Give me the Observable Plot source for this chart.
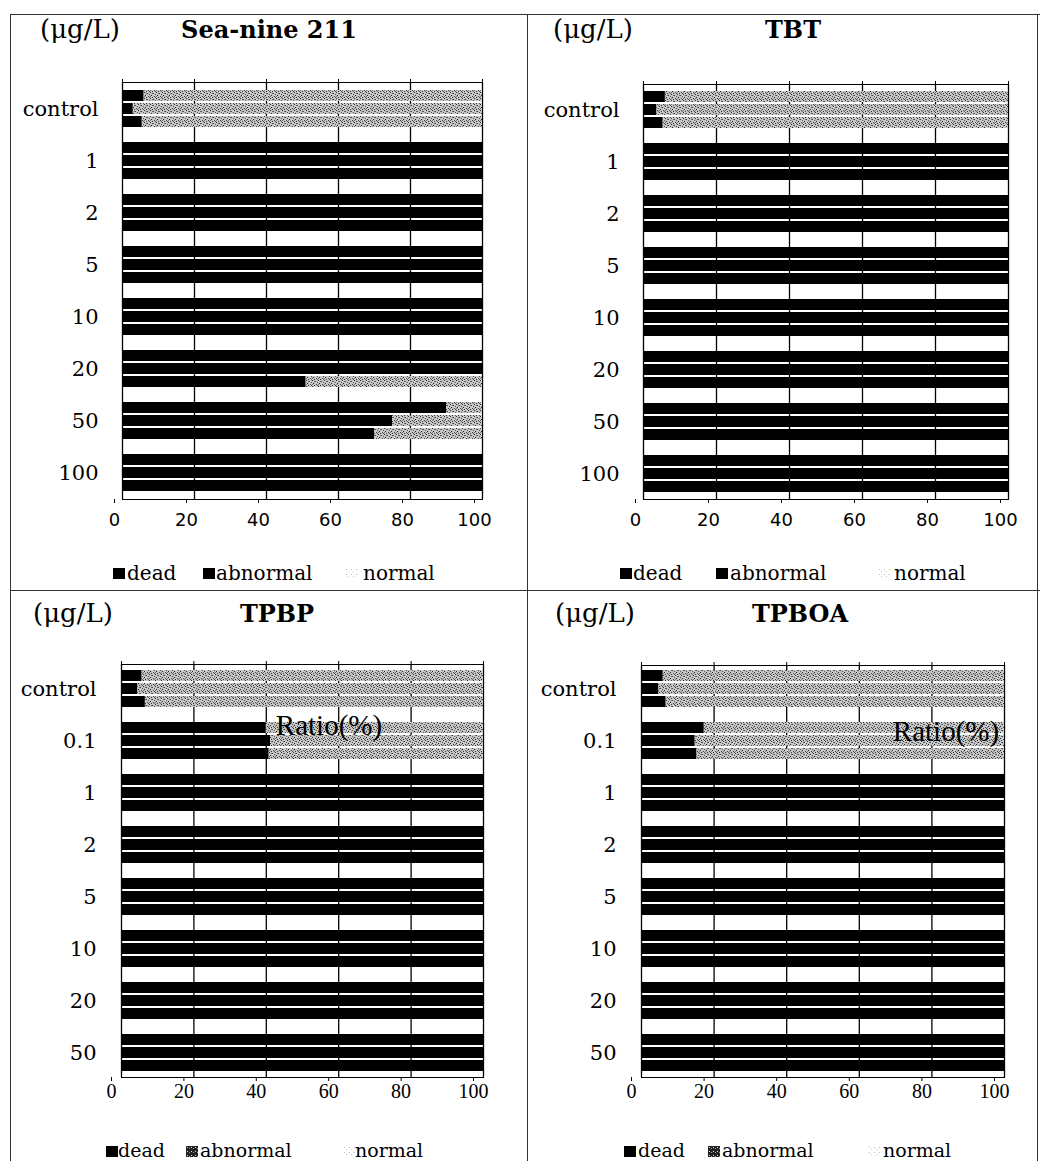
<!DOCTYPE html>
<html>
<head>
<meta charset="utf-8">
<script src="https://cdn.jsdelivr.net/npm/d3@7"></script>
<script src="https://cdn.jsdelivr.net/npm/@observablehq/plot@0.6"></script>
<style>
  body { margin: 0; background: #fff; }
  #page { position: relative; width: 1040px; height: 1161px; overflow: hidden; background: #fff; font-family: "DejaVu Serif", serif; color: #000; }
  .abs { position: absolute; white-space: nowrap; line-height: 1; }
  .bline { position: absolute; background: #333; }
  .plotbox { position: absolute; }
  .plotbox svg { overflow: visible; }
  svg.xsans g[aria-label*="x-axis"] text { font-family: "DejaVu Sans", sans-serif !important; font-size: 18px !important; }
  svg.xserif g[aria-label*="x-axis"] text { font-family: "Liberation Serif", serif !important; font-size: 20px !important; }
  svg.xsans g[aria-label*="y-axis"] text, svg.xserif g[aria-label*="y-axis"] text { font-family: "DejaVu Serif", serif !important; font-size: 21px !important; }
</style>
</head>
<body>
<svg width="0" height="0" style="position:absolute">
  <defs>
    <pattern id="pNormal" width="6" height="6" patternUnits="userSpaceOnUse">
      <rect width="6" height="6" fill="#c6c6c6"/>
      <rect x="0" y="0" width="1" height="1" fill="#333"/>
      <rect x="3" y="1" width="1" height="1" fill="#444"/>
      <rect x="1" y="3" width="1" height="1" fill="#222"/>
      <rect x="4" y="4" width="1" height="1" fill="#444"/>
      <rect x="5" y="2" width="1" height="1" fill="#555"/>
      <rect x="2" y="5" width="1" height="1" fill="#333"/>
      <rect x="2" y="1" width="1" height="1" fill="#666"/>
      <rect x="5" y="5" width="1" height="1" fill="#555"/>
      <rect x="0" y="4" width="1" height="1" fill="#777"/>
    </pattern>
    <pattern id="pNormalLight" width="5" height="5" patternUnits="userSpaceOnUse">
      <rect width="5" height="5" fill="#fff"/>
      <rect x="1" y="1" width="1" height="1" fill="#bbb"/>
      <rect x="3" y="3" width="1" height="1" fill="#ccc"/>
    </pattern>
    <pattern id="pAbnormal" width="4" height="4" patternUnits="userSpaceOnUse">
      <rect width="4" height="4" fill="#222"/>
      <rect x="1" y="1" width="1" height="1" fill="#ddd"/>
      <rect x="3" y="2" width="1" height="1" fill="#999"/>
    </pattern>
  </defs>
</svg>
<div id="page"></div>
<script>
// ---------------- DATA ----------------
const categories = ["dead", "abnormal", "normal"];
const xTickValues = [0, 20, 40, 60, 80, 100];

// Sea-nine 211
const seaNineConc = ["control", "1", "2", "5", "10", "20", "50", "100"];
const seaNineDead = [[6, 3, 5.5], [100, 100, 100], [100, 100, 100], [100, 100, 100], [100, 100, 100], [100, 100, 51], [90, 75, 70], [100, 100, 100]];
const seaNineAbnormal = [[0, 0, 0], [0, 0, 0], [0, 0, 0], [0, 0, 0], [0, 0, 0], [0, 0, 0], [0, 0, 0], [0, 0, 0]];
const seaNineNormal = [[94, 97, 94.5], [0, 0, 0], [0, 0, 0], [0, 0, 0], [0, 0, 0], [0, 0, 49], [10, 25, 30], [0, 0, 0]];

// TBT
const tbtConc = ["control", "1", "2", "5", "10", "20", "50", "100"];
const tbtDead = [[6, 3.7, 5.4], [100, 100, 100], [100, 100, 100], [100, 100, 100], [100, 100, 100], [100, 100, 100], [100, 100, 100], [100, 100, 100]];
const tbtAbnormal = [[0, 0, 0], [0, 0, 0], [0, 0, 0], [0, 0, 0], [0, 0, 0], [0, 0, 0], [0, 0, 0], [0, 0, 0]];
const tbtNormal = [[94, 96.3, 94.6], [0, 0, 0], [0, 0, 0], [0, 0, 0], [0, 0, 0], [0, 0, 0], [0, 0, 0], [0, 0, 0]];

// TPBP
const tpbpConc = ["control", "0.1", "1", "2", "5", "10", "20", "50"];
const tpbpDead = [[5.7, 4.5, 6.6], [40, 41.2, 40.8], [100, 100, 100], [100, 100, 100], [100, 100, 100], [100, 100, 100], [100, 100, 100], [100, 100, 100]];
const tpbpAbnormal = [[0, 0, 0], [0, 0, 0], [0, 0, 0], [0, 0, 0], [0, 0, 0], [0, 0, 0], [0, 0, 0], [0, 0, 0]];
const tpbpNormal = [[94.3, 95.5, 93.4], [60, 58.8, 59.2], [0, 0, 0], [0, 0, 0], [0, 0, 0], [0, 0, 0], [0, 0, 0], [0, 0, 0]];

// TPBOA
const tpboaConc = ["control", "0.1", "1", "2", "5", "10", "20", "50"];
const tpboaDead = [[6, 4.8, 6.8], [17.3, 14.8, 15.3], [100, 100, 100], [100, 100, 100], [100, 100, 100], [100, 100, 100], [100, 100, 100], [100, 100, 100]];
const tpboaAbnormal = [[0, 0, 0], [0, 0, 0], [0, 0, 0], [0, 0, 0], [0, 0, 0], [0, 0, 0], [0, 0, 0], [0, 0, 0]];
const tpboaNormal = [[94, 95.2, 93.2], [82.7, 85.2, 84.7], [0, 0, 0], [0, 0, 0], [0, 0, 0], [0, 0, 0], [0, 0, 0], [0, 0, 0]];

// ---------------- LAYOUT ----------------
const page = document.getElementById("page");

function addLine(l, t, w, h) {
  const d = document.createElement("div");
  d.className = "bline";
  Object.assign(d.style, {left: l + "px", top: t + "px", width: w + "px", height: h + "px"});
  page.appendChild(d);
}
function addText(txt, opts) {
  const d = document.createElement("div");
  d.className = "abs";
  d.textContent = txt;
  Object.assign(d.style, opts);
  page.appendChild(d);
  return d;
}

// panel borders
addLine(10, 14, 1030, 1);
addLine(10, 14, 1, 1147);
addLine(527, 14, 1, 1147);
addLine(1037, 14, 1, 1147);
addLine(10, 590, 1030, 1);

const panels = [
  {title: "Sea-nine 211", conc: seaNineConc, dead: seaNineDead, abnormal: seaNineAbnormal, normal: seaNineNormal,
   plotLeft: 122, plotRight: 482, plotTop: 82, plotBottom: 499,
   titleX: 269, unitX: 40, headTop: 16,
   xClass: "xsans", xDx: -8, xPad: 10,
   yPad: 24, legendTop: 563, legendSize: 20, legend: [113, 127, 203, 216, 345, 363], abnSwatch: "#000", ratio: null},
  {title: "TBT", conc: tbtConc, dead: tbtDead, abnormal: tbtAbnormal, normal: tbtNormal,
   plotLeft: 643, plotRight: 1008, plotTop: 84, plotBottom: 499,
   titleX: 793, unitX: 553, headTop: 16,
   xClass: "xsans", xDx: -8, xPad: 10,
   yPad: 24, legendTop: 563, legendSize: 20, legend: [620, 633, 716, 730, 878, 894], abnSwatch: "#000", ratio: null},
  {title: "TPBP", conc: tpbpConc, dead: tpbpDead, abnormal: tpbpAbnormal, normal: tpbpNormal,
   plotLeft: 121, plotRight: 483, plotTop: 664, plotBottom: 1077,
   titleX: 277, unitX: 33, headTop: 600,
   xClass: "xserif", xDx: -10, xPad: 2,
   yPad: 25, legendTop: 1141, legendSize: 19, legend: [106, 118, 186, 200, 343, 355], abnSwatch: "url(#pAbnormal)",
   ratio: {x: 329, top: 711}},
  {title: "TPBOA", conc: tpboaConc, dead: tpboaDead, abnormal: tpboaAbnormal, normal: tpboaNormal,
   plotLeft: 641, plotRight: 1004, plotTop: 665, plotBottom: 1077,
   titleX: 800, unitX: 555, headTop: 600,
   xClass: "xserif", xDx: -10, xPad: 2,
   yPad: 25, legendTop: 1141, legendSize: 19, legend: [624, 638, 708, 722, 868, 883], abnSwatch: "url(#pAbnormal)",
   ratio: {x: 946, top: 717}}
];

const colorRange = ["#000", "#0a0a0a", "url(#pNormal)"];

function drawPanel(p) {
  // header
  addText("(\u03bcg/L)", {left: p.unitX + "px", top: p.headTop + "px", fontSize: "26px", fontFamily: '"DejaVu Serif", serif'});
  addText(p.title, {left: p.titleX + "px", top: (p.headTop + 2) + "px", fontSize: "24px", fontWeight: "bold",
    fontFamily: '"DejaVu Serif", serif', transform: "translateX(-50%)"});

  // band keys: 3 replicate bars per concentration, blank slot between groups
  const keys = [];
  const labelKeys = [];
  p.conc.forEach((c, i) => {
    for (let r = 0; r < 3; r++) keys.push(c + "|rep" + r);
    labelKeys.push(c + "|rep1");
    if (i < p.conc.length - 1) keys.push("blank|" + i);
  });
  const series = [p.dead, p.abnormal, p.normal];
  const rows = [];
  p.conc.forEach((c, i) => {
    for (let r = 0; r < 3; r++) {
      categories.forEach((cat, k) => rows.push({key: c + "|rep" + r, category: cat, value: series[k][i][r]}));
    }
  });

  const W = p.plotRight - p.plotLeft, H = p.plotBottom - p.plotTop;
  const ml = 110, mr = 20, mt = 20, mb = 40;
  const svg = Plot.plot({
    className: p.xClass,
    width: ml + W + mr, height: mt + H + mb,
    marginLeft: ml, marginRight: mr, marginTop: mt, marginBottom: mb,
    x: {domain: [0, 100]},
    y: {type: "band", domain: keys, padding: 0.12},
    color: {domain: categories, range: colorRange},
    style: {fontFamily: '"DejaVu Serif", serif', fontSize: "21px", color: "#000", background: "transparent", overflow: "visible"},
    marks: [
      Plot.gridX(xTickValues, {stroke: "#000", strokeOpacity: 1, strokeWidth: 1.3}),
      Plot.barX(rows, {x: "value", y: "key", fill: "category", order: categories}),
      Plot.frame({stroke: "#000", strokeWidth: 1}),
      Plot.axisX({anchor: "top", ticks: xTickValues, tickSize: 4, tickFormat: () => "", label: null, stroke: "#000"}),
      Plot.axisX({anchor: "bottom", ticks: xTickValues, tickSize: 4, tickPadding: p.xPad, label: null, dx: p.xDx, stroke: "#000"}),
      Plot.axisY({ticks: labelKeys, tickSize: 0, tickPadding: p.yPad, label: null,
        tickFormat: k => k.split("|")[0]})
    ]
  });
  svg.classList.add(p.xClass);
  const box = document.createElement("div");
  box.className = "plotbox";
  box.style.left = (p.plotLeft - ml) + "px";
  box.style.top = (p.plotTop - mt) + "px";
  box.appendChild(svg);
  page.appendChild(box);

  // legend
  const L = p.legend;
  const sw = [["#000", L[0]], [p.abnSwatch, L[2]], ["url(#pNormalLight)", L[4]]];
  sw.forEach(([fill, x], k) => {
    const s = document.createElementNS("http://www.w3.org/2000/svg", "svg");
    s.setAttribute("width", 12); s.setAttribute("height", 11);
    s.style.position = "absolute"; s.style.left = x + "px"; s.style.top = (p.legendTop + 5) + "px";
    const r = document.createElementNS("http://www.w3.org/2000/svg", "rect");
    r.setAttribute("width", 12); r.setAttribute("height", 11); r.setAttribute("fill", fill);
    s.appendChild(r);
    page.appendChild(s);
    addText(categories[k], {left: L[k * 2 + 1] + "px", top: p.legendTop + "px", fontSize: p.legendSize + "px", fontFamily: '"DejaVu Serif", serif'});
  });

  if (p.ratio) {
    addText("Ratio(%)", {left: p.ratio.x + "px", top: p.ratio.top + "px", fontSize: "29px",
      fontFamily: '"Liberation Serif", serif', transform: "translateX(-50%)"});
  }
}
panels.forEach(drawPanel);
</script>
</body>
</html>
